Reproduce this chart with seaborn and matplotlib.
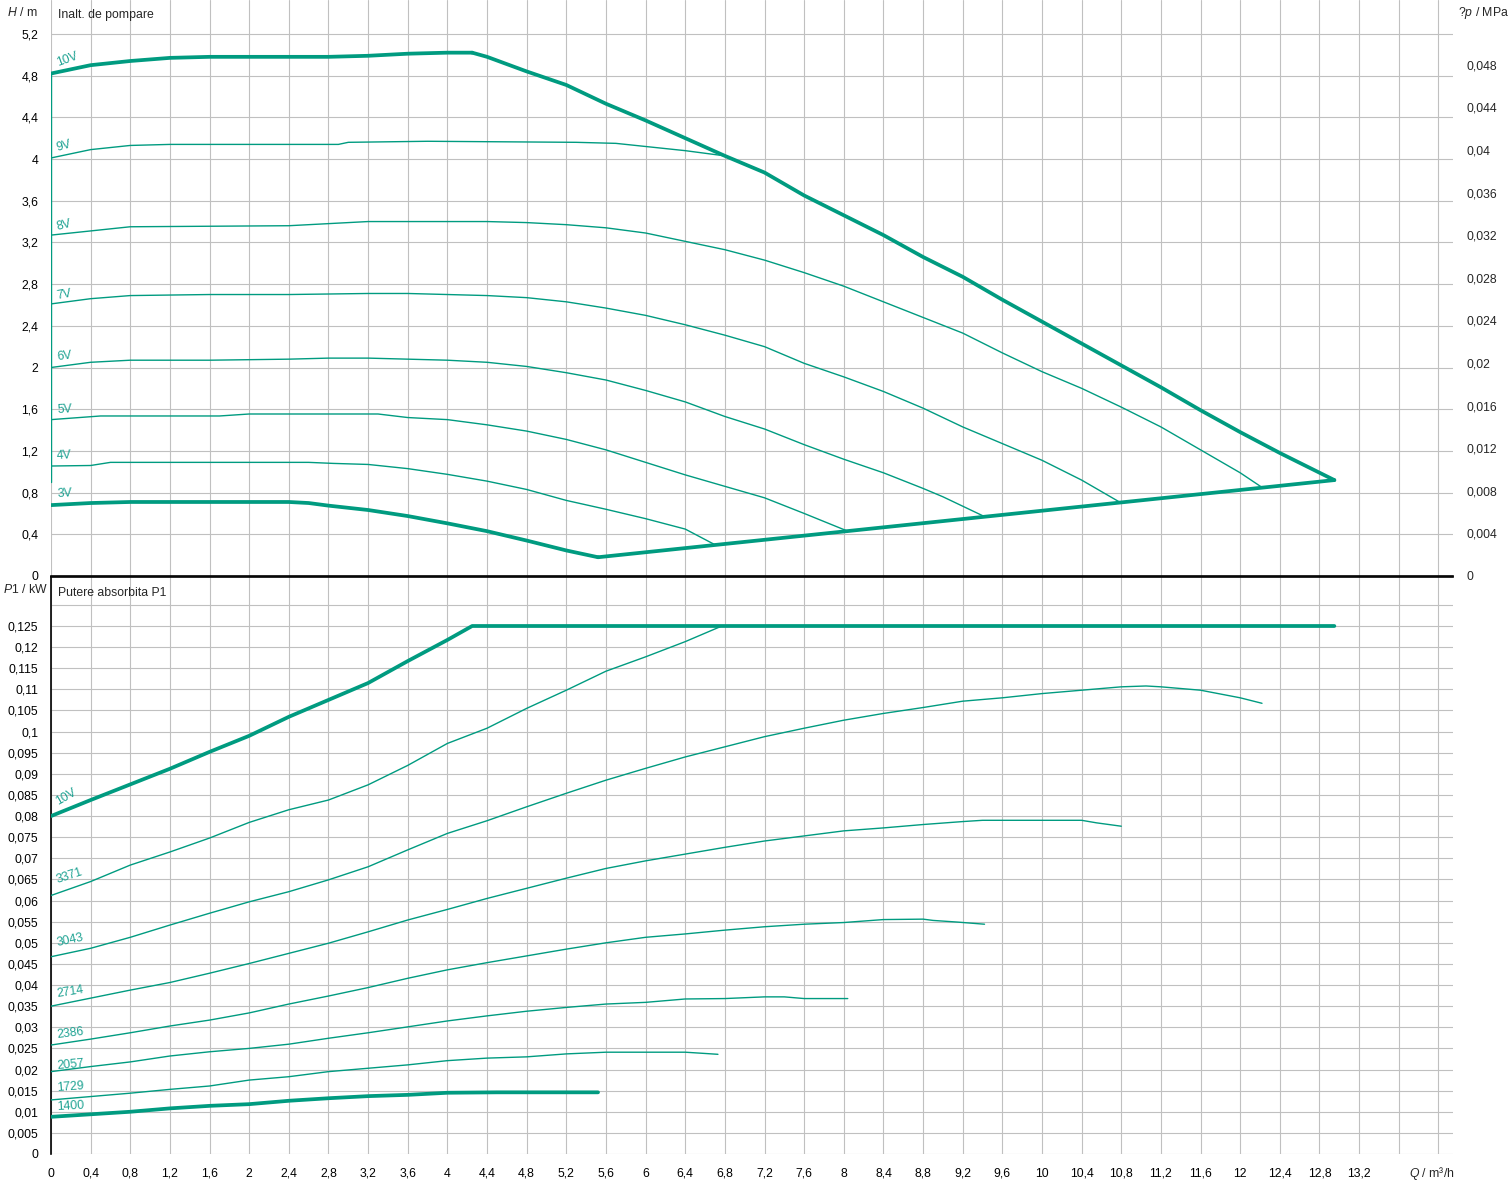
import numpy as np
import pandas as pd
import matplotlib
matplotlib.use("Agg")
import matplotlib.pyplot as plt
import seaborn as sns

# ---------------- data: head curves (top panel) ----------------
Q_10V_H = [0, 0.4, 0.8, 1.2, 1.6, 2.0, 2.4, 2.8, 3.2, 3.6, 4.0, 4.25]
H_10V = [4.82, 4.90, 4.94, 4.97, 4.98, 4.98, 4.98, 4.98, 4.99, 5.01, 5.02, 5.02]

Q_MAX = [4.25, 4.4, 4.8, 5.2, 5.6, 6.0, 6.4, 6.8, 7.2, 7.6, 8.0, 8.4, 8.8, 9.2, 9.6,
         10.0, 10.4, 10.8, 11.2, 11.6, 12.0, 12.4, 12.95]
H_MAX = [5.02, 4.98, 4.84, 4.71, 4.53, 4.37, 4.20, 4.03, 3.87, 3.65, 3.46, 3.27, 3.06,
         2.87, 2.65, 2.44, 2.23, 2.02, 1.81, 1.59, 1.38, 1.18, 0.92]

Q_MIN = [5.52, 12.95]
H_MIN = [0.18, 0.92]

Q_LEFT = [0, 0]
H_LEFT = [0.9, 4.82]

Q_9V = [0, 0.4, 0.8, 1.2, 2.9, 3.0, 3.8, 5.3, 5.7, 6.0, 6.4, 6.8]
H_9V = [4.01, 4.09, 4.13, 4.14, 4.14, 4.16, 4.17, 4.16, 4.15, 4.12, 4.08, 4.03]

Q_8V = [0, 0.4, 0.8, 2.4, 2.8, 3.2, 3.6, 4.0, 4.4, 4.8, 5.2, 5.6, 6.0, 6.4, 6.8, 7.2,
        7.6, 8.0, 8.4, 8.8, 9.2, 9.6, 10.0, 10.4, 10.8, 11.2, 11.6, 12.0, 12.22]
H_8V = [3.27, 3.31, 3.35, 3.36, 3.38, 3.40, 3.40, 3.40, 3.40, 3.39, 3.37, 3.34, 3.29,
        3.21, 3.13, 3.03, 2.91, 2.78, 2.63, 2.48, 2.33, 2.14, 1.96, 1.80, 1.62, 1.43,
        1.21, 0.99, 0.85]

Q_7V = [0, 0.4, 0.8, 1.6, 2.4, 3.2, 3.6, 4.0, 4.4, 4.8, 5.2, 5.6, 6.0, 6.4, 6.8, 7.2,
        7.6, 8.0, 8.4, 8.8, 9.2, 9.6, 10.0, 10.4, 10.8]
H_7V = [2.61, 2.66, 2.69, 2.70, 2.70, 2.71, 2.71, 2.70, 2.69, 2.67, 2.63, 2.57, 2.50,
        2.41, 2.31, 2.20, 2.04, 1.91, 1.77, 1.61, 1.43, 1.27, 1.11, 0.92, 0.70]

Q_6V = [0, 0.4, 0.8, 1.6, 2.4, 2.8, 3.2, 3.6, 4.0, 4.4, 4.8, 5.2, 5.6, 6.0, 6.4, 6.8,
        7.2, 7.6, 8.0, 8.4, 8.8, 9.0, 9.42]
H_6V = [2.00, 2.05, 2.07, 2.07, 2.08, 2.09, 2.09, 2.08, 2.07, 2.05, 2.01, 1.95, 1.88,
        1.78, 1.67, 1.53, 1.41, 1.26, 1.12, 0.99, 0.84, 0.76, 0.57]

Q_5V = [0, 0.5, 1.0, 1.7, 2.0, 2.4, 2.8, 3.3, 3.6, 4.0, 4.4, 4.8, 5.2, 5.6, 6.0, 6.4,
        6.8, 7.2, 7.6, 8.04]
H_5V = [1.50, 1.535, 1.535, 1.535, 1.554, 1.554, 1.554, 1.554, 1.52, 1.50, 1.45, 1.39,
        1.31, 1.21, 1.09, 0.97, 0.86, 0.75, 0.60, 0.43]

Q_4V = [0, 0.4, 0.6, 1.2, 1.6, 2.0, 2.6, 2.85, 3.2, 3.6, 4.0, 4.4, 4.8, 5.2, 5.6, 6.0,
        6.4, 6.7]
H_4V = [1.055, 1.06, 1.09, 1.09, 1.09, 1.09, 1.09, 1.08, 1.07, 1.03, 0.975, 0.91, 0.83,
        0.725, 0.64, 0.55, 0.45, 0.30]

Q_3V = [0, 0.4, 0.8, 1.2, 1.6, 2.0, 2.4, 2.6, 2.8, 3.2, 3.6, 4.0, 4.4, 4.8, 5.2, 5.52]
H_3V = [0.68, 0.70, 0.71, 0.71, 0.71, 0.71, 0.71, 0.70, 0.675, 0.633, 0.575, 0.505,
        0.43, 0.34, 0.245, 0.18]

H_LABELS = ["10V", "9V", "8V", "7V", "6V", "5V", "4V", "3V"]
H_LABEL_POS = [4.92, 4.10, 3.35, 2.69, 2.10, 1.59, 1.15, 0.79]
H_LABEL_ROT = [20, 16, 14, 10, 6, 3, 3, 3]

# ---------------- data: power curves (bottom panel) ----------------
Q_P10V = [0, 0.4, 0.8, 1.2, 1.6, 2.0, 2.4, 2.8, 3.2, 3.6, 4.0, 4.25, 12.95]
P_10V = [0.0800, 0.0838, 0.0875, 0.0912, 0.0952, 0.0990, 0.1035, 0.1075, 0.1115,
         0.1167, 0.1217, 0.125, 0.125]

Q_3371 = [0, 0.4, 0.8, 1.2, 1.6, 2.0, 2.4, 2.8, 3.2, 3.6, 4.0, 4.4, 4.8, 5.2, 5.6, 6.0,
          6.4, 6.75]
P_3371 = [0.0612, 0.0645, 0.0684, 0.0715, 0.0748, 0.0785, 0.0815, 0.0838, 0.0874,
          0.0920, 0.0972, 0.1008, 0.1055, 0.1098, 0.1143, 0.1177, 0.1213, 0.1248]

Q_3043 = [0, 0.4, 0.8, 1.2, 1.6, 2.0, 2.4, 2.8, 3.2, 3.6, 4.0, 4.4, 4.8, 5.2, 5.6, 6.0,
          6.4, 6.8, 7.2, 7.6, 8.0, 8.4, 8.8, 9.2, 9.6, 10.0, 10.4, 10.8, 11.05, 11.2,
          11.6, 12.0, 12.22]
P_3043 = [0.0467, 0.0487, 0.0513, 0.0542, 0.0570, 0.0597, 0.0621, 0.0649, 0.0680,
          0.0720, 0.0759, 0.0789, 0.0822, 0.0854, 0.0885, 0.0913, 0.0940, 0.0964,
          0.0988, 0.1008, 0.1027, 0.1043, 0.1057, 0.1072, 0.1080, 0.1090, 0.1098,
          0.1106, 0.1108, 0.1106, 0.1098, 0.1080, 0.1067]

Q_2714 = [0, 0.4, 0.8, 1.2, 1.6, 2.0, 2.4, 2.8, 3.2, 3.6, 4.0, 4.4, 4.8, 5.2, 5.6, 6.0,
          6.4, 6.8, 7.2, 7.6, 8.0, 8.4, 8.8, 9.2, 9.4, 10.4, 10.55, 10.8]
P_2714 = [0.0350, 0.0369, 0.0388, 0.0406, 0.0428, 0.0451, 0.0475, 0.0499, 0.0526,
          0.0554, 0.0579, 0.0605, 0.0629, 0.0653, 0.0676, 0.0694, 0.0710, 0.0726,
          0.0741, 0.0753, 0.0765, 0.0772, 0.0780, 0.0787, 0.0790, 0.0790, 0.0784,
          0.0776]

Q_2386 = [0, 0.4, 0.8, 1.2, 1.6, 2.0, 2.4, 2.8, 3.2, 3.6, 4.0, 4.4, 4.8, 5.2, 5.6, 6.0,
          6.4, 6.8, 7.2, 7.6, 8.0, 8.4, 8.8, 8.9, 9.15, 9.42]
P_2386 = [0.0258, 0.0272, 0.0287, 0.0303, 0.0317, 0.0334, 0.0355, 0.0374, 0.0394,
          0.0416, 0.0436, 0.0453, 0.0469, 0.0485, 0.0500, 0.0513, 0.0521, 0.0530,
          0.0538, 0.0544, 0.0548, 0.0555, 0.0556, 0.0553, 0.0549, 0.0544]

Q_2057 = [0, 0.4, 0.8, 1.2, 1.6, 2.0, 2.4, 2.8, 3.2, 3.6, 4.0, 4.4, 4.8, 5.2, 5.6, 6.0,
          6.4, 6.8, 7.2, 7.4, 7.6, 8.04]
P_2057 = [0.0195, 0.0207, 0.0218, 0.0232, 0.0242, 0.0250, 0.0260, 0.0274, 0.0287,
          0.0301, 0.0315, 0.0327, 0.0338, 0.0347, 0.0355, 0.0359, 0.0367, 0.0368,
          0.0372, 0.0372, 0.0368, 0.0368]

Q_1729 = [0, 0.4, 0.8, 1.2, 1.6, 2.0, 2.4, 2.8, 3.2, 3.6, 4.0, 4.4, 4.8, 5.2, 5.6, 6.4,
          6.6, 6.73]
P_1729 = [0.0128, 0.0136, 0.0144, 0.0153, 0.0161, 0.0175, 0.0183, 0.0195, 0.0203,
          0.0211, 0.0221, 0.0227, 0.0230, 0.0237, 0.0241, 0.0241, 0.0238, 0.0236]

Q_1400 = [0, 0.4, 0.8, 1.2, 1.6, 2.0, 2.4, 2.8, 3.2, 3.6, 4.0, 4.5, 5.52]
P_1400 = [0.0088, 0.0094, 0.0100, 0.0108, 0.0114, 0.0118, 0.0126, 0.0132, 0.0137,
          0.0140, 0.0145, 0.0146, 0.0146]

P_LABELS = ["10V", "3371", "3043", "2714", "2386", "2057", "1729", "1400"]
P_LABEL_POS = [0.0833, 0.0649, 0.0499, 0.0379, 0.0282, 0.0208, 0.0156, 0.0111]
P_LABEL_ROT = [30, 18, 12, 9, 7, 5, 4, 3]

# axis tick values
X_TICKS = np.round(np.arange(0, 14.01, 0.4), 1)
H_TICKS = np.round(np.arange(0, 5.21, 0.4), 1)
DP_TICKS = np.round(np.arange(0, 0.0481, 0.004), 3)
P_TICKS = np.round(np.arange(0, 0.1301, 0.005), 3)

# ---------------- styling ----------------
sns.set_style("white")
plt.rcParams["font.family"] = ["Liberation Sans", "DejaVu Sans"]
plt.rcParams["mathtext.fontset"] = "custom"
plt.rcParams["mathtext.rm"] = "Liberation Sans"
plt.rcParams["mathtext.it"] = "Liberation Sans:italic"

TEAL = "#009b80"
LABEL_TEAL = "#1fa393"
GRID = "#c0c0c0"
THICK = 2.7
THIN = 1.0
FS = 8.8


def fmt(v):
    s = f"{v:g}"
    return s.replace(".", ",")


W, H = 1512, 1184
fig = plt.figure(figsize=(W / 100, H / 100), dpi=100)

left = 51 / W
width = (1453 - 51) / W
ax_h = fig.add_axes([left, 1 - 576 / H, width, 576 / H])
ax_p = fig.add_axes([left, (H - 1154) / H, width, (1154 - 577) / H])

XMAX = (1453 - 51) / 99.1
HMAX = 576 / 104.25
PMAX = (1154 - 577) * 0.005 / 21.12


def draw(ax, q, v, lw):
    df = pd.DataFrame({"Q": q, "V": v})
    sns.lineplot(data=df, x="Q", y="V", ax=ax, sort=False, estimator=None,
                 color=TEAL, linewidth=lw, zorder=3)


# top panel
for q, v, lw in [(Q_10V_H, H_10V, THICK), (Q_MAX, H_MAX, THICK), (Q_MIN, H_MIN, THICK),
                 (Q_3V, H_3V, THICK), (Q_LEFT, H_LEFT, THIN), (Q_9V, H_9V, THIN),
                 (Q_8V, H_8V, THIN), (Q_7V, H_7V, THIN), (Q_6V, H_6V, THIN),
                 (Q_5V, H_5V, THIN), (Q_4V, H_4V, THIN)]:
    draw(ax_h, q, v, lw)

for lab, yv, rot in zip(H_LABELS, H_LABEL_POS, H_LABEL_ROT):
    ax_h.text(0.06, yv, lab, color=LABEL_TEAL, fontsize=FS, rotation=rot,
              ha="left", va="center", rotation_mode="anchor", zorder=4)

# bottom panel
for q, v, lw in [(Q_P10V, P_10V, THICK), (Q_3371, P_3371, THIN), (Q_3043, P_3043, THIN),
                 (Q_2714, P_2714, THIN), (Q_2386, P_2386, THIN), (Q_2057, P_2057, THIN),
                 (Q_1729, P_1729, THIN), (Q_1400, P_1400, THICK)]:
    draw(ax_p, q, v, lw)

for lab, yv, rot in zip(P_LABELS, P_LABEL_POS, P_LABEL_ROT):
    ax_p.text(0.06, yv, lab, color=LABEL_TEAL, fontsize=FS, rotation=rot,
              ha="left", va="center", rotation_mode="anchor", zorder=4)

# axes formatting
for ax in (ax_h, ax_p):
    ax.set_xlim(0, XMAX)
    ax.set_xticks(X_TICKS)
    ax.set_xlabel("")
    ax.set_ylabel("")
    ax.grid(True, color=GRID, linewidth=0.8)
    ax.set_axisbelow(True)
    ax.tick_params(length=0, labelsize=FS, colors="black")
    for s in ax.spines.values():
        s.set_visible(False)

ax_h.set_ylim(0, HMAX)
ax_h.set_yticks(H_TICKS)
ax_h.set_yticklabels([fmt(v) for v in H_TICKS])
ax_h.tick_params(axis="y", pad=9)
ax_h.tick_params(axis="x", labelbottom=False)
ax_h.spines["bottom"].set_visible(True)
ax_h.spines["bottom"].set_color("black")
ax_h.spines["bottom"].set_linewidth(1.2)

ax_dp = ax_h.twinx()
ax_dp.set_ylim(0, HMAX * 0.00979)
ax_dp.set_yticks(DP_TICKS)
ax_dp.set_yticklabels([fmt(v) for v in DP_TICKS])
ax_dp.tick_params(length=0, labelsize=FS, pad=10)
ax_dp.grid(False)
for s in ax_dp.spines.values():
    s.set_visible(False)

ax_p.set_ylim(0, PMAX)
ax_p.set_yticks(P_TICKS)
ax_p.set_yticklabels([fmt(v) if v <= 0.1251 else "" for v in P_TICKS])
ax_p.set_xticklabels([fmt(v) if v <= 13.21 else "" for v in X_TICKS])
ax_p.tick_params(axis="y", pad=9)
ax_p.tick_params(axis="x", pad=10)
for side in ("left", "top"):
    ax_p.spines[side].set_visible(True)
    ax_p.spines[side].set_color("black")
    ax_p.spines[side].set_linewidth(1.2)

# axis titles and panel titles
fig.text(38 / W, 1 - 13 / H, "$H$ / m", ha="right", va="center", fontsize=FS)
fig.text(1509 / W, 1 - 13 / H, "$?p$ / MPa", ha="right", va="center", fontsize=FS)
fig.text(3 / W, 1 - 590 / H, "$P1$ / kW", ha="left", va="center", fontsize=FS)
fig.text(1455 / W, 1 - 1173 / H, "$Q$ / m³/h", ha="right", va="center", fontsize=FS)
fig.text(58 / W, 1 - 15 / H, "Inalt. de pompare", ha="left", va="center", fontsize=FS)
fig.text(58 / W, 1 - 593 / H, "Putere absorbita P1", ha="left", va="center", fontsize=FS)

fig.savefig("out.png", dpi=100, facecolor="white")
